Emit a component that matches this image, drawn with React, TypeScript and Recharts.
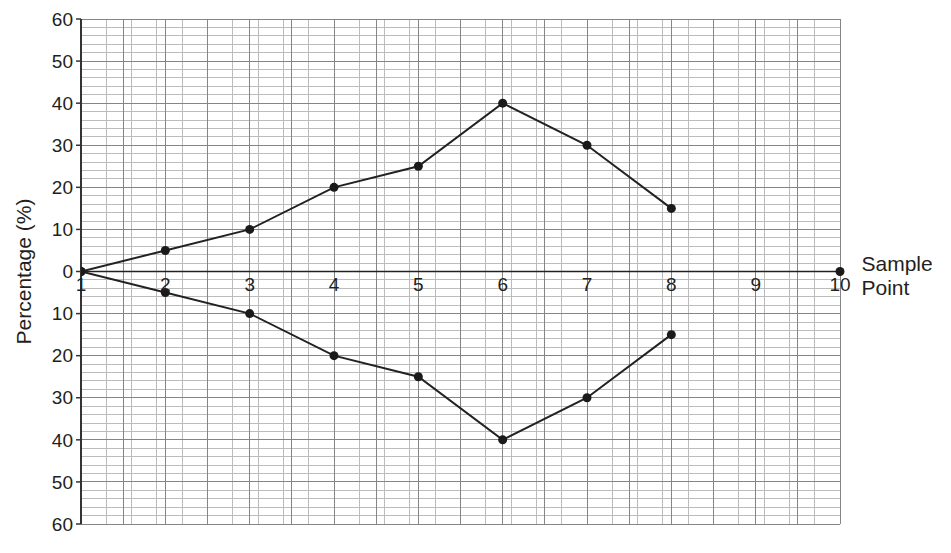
import React from "react";
import {
  LineChart,
  Line,
  XAxis,
  YAxis,
  CartesianGrid,
  ReferenceLine,
  ReferenceDot,
  Label,
} from "recharts";

const samplePoints = [1, 2, 3, 4, 5, 6, 7, 8];
const upperValues = [0, 5, 10, 20, 25, 40, 30, 15];
const lowerValues = [0, -5, -10, -20, -25, -40, -30, -15];
const xTickLabels = [1, 2, 3, 4, 5, 6, 7, 8, 9, 10];
const yTicks = [-60, -50, -40, -30, -20, -10, 0, 10, 20, 30, 40, 50, 60];

const data = samplePoints.map((x, i) => ({
  x,
  up: upperValues[i],
  down: lowerValues[i],
}));

const minorX: number[] = [];
for (let i = 10; i <= 100; i++) minorX.push(i / 10);
const majorX: number[] = [];
for (let i = 2; i <= 20; i++) majorX.push(i / 2);
const minorY: number[] = [];
for (let v = -60; v <= 60; v += 2) minorY.push(v);
const majorY: number[] = [];
for (let v = -60; v <= 60; v += 10) majorY.push(v);

const FONT = "'Liberation Sans', Arial, Helvetica, sans-serif";
const INK = "#231f20";

const SampleLabel = (props: any) => {
  const vb = props.viewBox || {};
  const x = (vb.x ?? 0) + (vb.width ?? 0) + 17;
  const y = (vb.y ?? 0) + (vb.height ?? 0) / 2;
  return (
    <text x={x} y={y} fill={INK} fontSize={21} fontFamily={FONT}>
      <tspan x={x} dy={-1}>Sample</tspan>
      <tspan x={x} dy={24}>Point</tspan>
    </text>
  );
};

export default function App() {
  return (
    <div style={{ position: "absolute", left: 0, top: 0, background: "#fff" }}>
      <style>{`.recharts-cartesian-grid line { shape-rendering: crispEdges; }`}</style>
      <LineChart
        width={951}
        height={553}
        data={data}
        margin={{ top: 19, right: 111, bottom: 29, left: 0 }}
        style={{ fontFamily: FONT }}
      >
        <XAxis
          dataKey="x"
          type="number"
          domain={[1, 10]}
          hide
          allowDataOverflow
        />
        <YAxis
          type="number"
          domain={[-60, 60]}
          ticks={yTicks}
          width={81}
          interval={0}
          tickSize={5}
          tickMargin={3}
          tickFormatter={(v: number) => String(Math.abs(v))}
          tick={{ fill: INK, fontSize: 19, fontFamily: FONT }}
          axisLine={{ stroke: "#333", strokeWidth: 2 }}
          tickLine={{ stroke: "#333", strokeWidth: 1.5 }}
        >
          <Label
            value="Percentage (%)"
            angle={-90}
            position="insideLeft"
            offset={24}
            style={{ textAnchor: "middle", fill: INK, fontSize: 21, fontFamily: FONT }}
          />
        </YAxis>
        <CartesianGrid
          horizontalValues={minorY}
          verticalValues={minorX}
          stroke="#bcbcbc"
          strokeWidth={1}
        />
        <CartesianGrid
          horizontalValues={majorY}
          verticalValues={majorX}
          stroke="#858585"
          strokeWidth={1}
        />
        <ReferenceLine y={0} stroke="#222" strokeWidth={1.5} />
        {xTickLabels.map((v) => (
          <ReferenceDot
            key={v}
            x={v}
            y={0}
            r={0}
            fill="none"
            stroke="none"
            label={{
              value: String(v),
              position: "bottom",
              offset: 6,
              fill: INK,
              fontSize: 19,
              fontFamily: FONT,
            }}
          />
        ))}
        <ReferenceDot x={10} y={0} r={4.5} fill="#1a1a1a" stroke="none">
          <Label content={<SampleLabel />} />
        </ReferenceDot>
        <Line
          dataKey="up"
          stroke="#222"
          strokeWidth={2}
          dot={{ r: 4.5, fill: "#1a1a1a", stroke: "none" }}
          isAnimationActive={false}
        />
        <Line
          dataKey="down"
          stroke="#222"
          strokeWidth={2}
          dot={{ r: 4.5, fill: "#1a1a1a", stroke: "none" }}
          isAnimationActive={false}
        />
      </LineChart>
    </div>
  );
}
